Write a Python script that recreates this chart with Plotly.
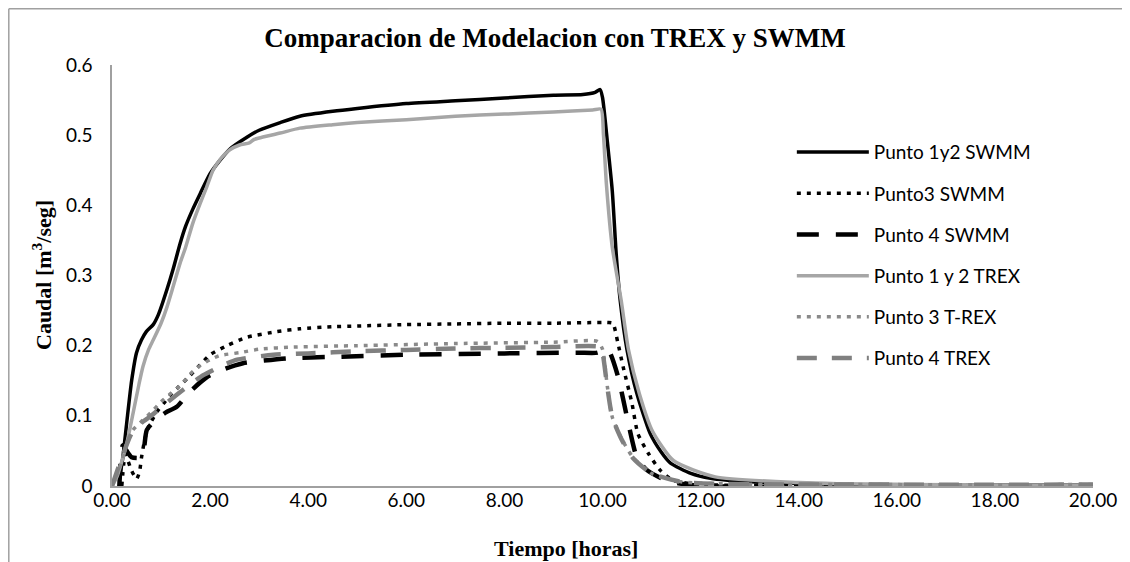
import plotly.graph_objects as go

# ---------------- data (hours, m3/s) ----------------
t_p12_swmm = [0.15, 0.22, 0.30, 0.40, 0.50, 0.60, 0.70, 0.84, 0.95, 1.12, 1.25, 1.39, 1.50, 1.65, 1.80, 2.00,
              2.20, 2.40, 2.75, 3.00, 3.43, 3.83, 4.50, 5.00, 6.00, 7.00, 8.00, 9.00, 9.60, 9.85, 9.95,
              10.00, 10.10, 10.20, 10.28, 10.36, 10.50, 10.70, 10.97, 11.20, 11.38, 11.80, 12.20, 13.00,
              13.90, 15.00, 20.00]
q_p12_swmm = [0.010, 0.040, 0.090, 0.150, 0.190, 0.208, 0.220, 0.230, 0.245, 0.280, 0.310, 0.346, 0.370,
              0.395, 0.417, 0.445, 0.464, 0.480, 0.497, 0.507, 0.518, 0.527, 0.534, 0.538, 0.545, 0.549,
              0.553, 0.557, 0.558, 0.561, 0.565, 0.554, 0.490, 0.420, 0.330, 0.265, 0.194, 0.132, 0.075,
              0.048, 0.033, 0.018, 0.011, 0.006, 0.004, 0.002, 0.001]

t_p3_swmm = [0.20, 0.27, 0.33, 0.40, 0.50, 0.56, 0.60, 0.65, 0.71, 0.80, 0.94, 1.08, 1.22, 1.37, 1.53, 1.76,
             2.00, 2.34, 2.75, 3.36, 3.83, 4.50, 5.00, 6.00, 7.00, 8.00, 9.00, 10.10, 10.21, 10.31, 10.42,
             10.60, 10.72, 10.93, 11.17, 11.44, 12.00, 13.00, 20.00]
q_p3_swmm = [0.000, 0.045, 0.035, 0.022, 0.010, 0.020, 0.040, 0.060, 0.078, 0.092, 0.108, 0.120, 0.132,
             0.142, 0.153, 0.170, 0.187, 0.200, 0.212, 0.220, 0.224, 0.227, 0.228, 0.230, 0.231, 0.232,
             0.232, 0.233, 0.232, 0.205, 0.170, 0.118, 0.075, 0.047, 0.023, 0.008, 0.002, 0.001, 0.000]

t_p4_swmm = [0.15, 0.22, 0.30, 0.40, 0.55, 0.63, 0.71, 0.90, 1.10, 1.32, 1.60, 1.93, 2.30, 2.67, 3.00, 3.57,
             4.50, 6.00, 8.00, 9.50, 9.90, 10.05, 10.15, 10.32, 10.50, 10.70, 10.90, 11.30, 11.85, 20.00]
q_p4_swmm = [0.000, 0.058, 0.050, 0.041, 0.040, 0.045, 0.080, 0.095, 0.105, 0.113, 0.135, 0.155, 0.167,
             0.175, 0.178, 0.182, 0.184, 0.187, 0.189, 0.190, 0.190, 0.196, 0.190, 0.155, 0.098, 0.041,
             0.023, 0.008, 0.001, 0.000]

t_p12_trex = [0.00, 0.10, 0.20, 0.30, 0.43, 0.55, 0.63, 0.75, 0.84, 1.00, 1.12, 1.25, 1.39, 1.50, 1.65,
              1.80, 1.93, 2.06, 2.20, 2.40, 2.60, 2.80, 2.90, 3.00, 3.43, 3.83, 4.50, 5.00, 6.00, 7.00,
              8.00, 9.00, 9.80, 9.97, 10.02, 10.08, 10.20, 10.38, 10.53, 10.75, 11.02, 11.45, 12.30,
              14.00, 16.00, 20.00]
q_p12_trex = [0.000, 0.013, 0.035, 0.060, 0.104, 0.145, 0.170, 0.195, 0.208, 0.232, 0.255, 0.285, 0.318,
              0.340, 0.375, 0.403, 0.426, 0.450, 0.465, 0.479, 0.486, 0.489, 0.494, 0.496, 0.503, 0.510,
              0.515, 0.518, 0.522, 0.527, 0.530, 0.533, 0.536, 0.537, 0.500, 0.430, 0.340, 0.265, 0.194,
              0.132, 0.078, 0.036, 0.013, 0.005, 0.002, 0.001]

t_p3_trex = [0.00, 0.15, 0.30, 0.43, 0.60, 0.80, 1.00, 1.20, 1.42, 1.60, 1.80, 2.00, 2.20, 2.60, 3.00,
             3.70, 5.00, 7.00, 9.00, 9.90, 10.00, 10.10, 10.20, 10.40, 10.62, 11.00, 11.60, 12.50, 20.00]
q_p3_trex = [0.000, 0.025, 0.060, 0.080, 0.092, 0.105, 0.120, 0.132, 0.145, 0.160, 0.172, 0.180, 0.186,
             0.190, 0.195, 0.198, 0.200, 0.203, 0.205, 0.206, 0.195, 0.141, 0.098, 0.066, 0.041, 0.018,
             0.006, 0.003, 0.002]

t_p4_trex = [0.00, 0.20, 0.40, 0.60, 0.80, 1.00, 1.32, 1.60, 1.86, 2.20, 2.55, 3.29, 4.00, 5.00, 6.00,
             7.00, 8.00, 9.00, 9.95, 10.00, 10.10, 10.20, 10.40, 10.62, 11.00, 11.60, 12.50, 20.00]
q_p4_trex = [0.000, 0.040, 0.075, 0.090, 0.100, 0.112, 0.130, 0.145, 0.158, 0.170, 0.180, 0.187, 0.189,
             0.192, 0.194, 0.196, 0.197, 0.198, 0.198, 0.190, 0.140, 0.098, 0.065, 0.040, 0.018, 0.006,
             0.003, 0.002]

series_names = ["Punto 1y2 SWMM", "Punto3 SWMM", "Punto 4 SWMM",
                "Punto 1 y 2 TREX", "Punto 3 T-REX", "Punto 4 TREX"]

x_ticks = [0, 2, 4, 6, 8, 10, 12, 14, 16, 18, 20]
y_ticks = [0, 0.1, 0.2, 0.3, 0.4, 0.5, 0.6]

# ---------------- figure ----------------
series = [
    (t_p12_swmm, q_p12_swmm, "#000000", 3.5, "solid"),
    (t_p3_swmm, q_p3_swmm, "#000000", 3.5, "4px,6px"),
    (t_p4_swmm, q_p4_swmm, "#000000", 4.5, "22px,17px"),
    (t_p12_trex, q_p12_trex, "#A6A6A6", 3.5, "solid"),
    (t_p3_trex, q_p3_trex, "#8A8A8A", 3.5, "4px,6px"),
    (t_p4_trex, q_p4_trex, "#808080", 4.5, "20px,15px"),
]

fig = go.Figure()
for i, (tx, qy, col, w, dash) in enumerate(series):
    fig.add_trace(go.Scatter(
        x=tx, y=qy, mode="lines", name=series_names[i],
        line=dict(color=col, width=w, dash=dash, shape="spline", smoothing=0.6),
        legendgroup=f"g{i}",
    ))

axis_col = "#A0A0A0"
PL, PR, PT, PB = 104, 1085, 57, 478          # plot area in figure pixels
PW, PH = PR - PL, PB - PT

fig.update_layout(
    width=1130, height=562,
    margin=dict(l=PL, r=1130 - PR, t=PT, b=562 - PB),
    paper_bgcolor="white", plot_bgcolor="white",
    font=dict(family="Lato, Open Sans, sans-serif", size=19, color="#000000"),
    showlegend=True,
    legend=dict(x=0.693, y=0.838, xanchor="left", yanchor="top",
                traceorder="grouped", tracegroupgap=13.5, itemwidth=72,
                font=dict(family="Lato, sans-serif", size=19, color="#000000"),
                bgcolor="rgba(0,0,0,0)"),
    xaxis=dict(range=[0, 20], tickvals=x_ticks, tickformat=".2f",
               showgrid=False, zeroline=False, showline=True,
               linecolor=axis_col, linewidth=1.5, ticks="",
               ticklabelstandoff=-4),
    yaxis=dict(range=[0, 0.6], tickvals=y_ticks,
               showgrid=False, zeroline=False, showline=True,
               linecolor=axis_col, linewidth=1.5, ticks="",
               ticklabelstandoff=14),
    title=dict(text="<b>Comparacion de Modelacion con TREX y SWMM</b>",
               x=547 / 1130, xref="container", xanchor="center",
               y=1 - 30 / 562, yref="container", yanchor="middle",
               font=dict(family="Liberation Serif, Times New Roman, serif", size=27, color="#000000")),
)

fig.add_annotation(text="<b>Tiempo [horas]</b>", xref="paper", yref="paper",
                   x=(558 - PL) / PW, y=(PB - 540) / PH, showarrow=False,
                   xanchor="center", yanchor="middle",
                   font=dict(family="Liberation Serif, Times New Roman, serif", size=22, color="#000000"))
fig.add_annotation(text="<b>Caudal [m<sup>3</sup>/seg]</b>", xref="paper", yref="paper",
                   x=(34 - PL) / PW, y=(PB - 267) / PH, showarrow=False, textangle=-90,
                   xanchor="center", yanchor="middle",
                   font=dict(family="Liberation Serif, Times New Roman, serif", size=22, color="#000000"))

# chart-area border (outer frame at the figure's top/left edges)
fig.add_shape(type="line", xref="paper", yref="paper",
              x0=(0.8 - PL) / PW, x1=(0.8 - PL) / PW, y0=(PB - 0.8) / PH, y1=(PB - 600) / PH,
              line=dict(color="#A0A0A0", width=1.5))
fig.add_shape(type="line", xref="paper", yref="paper",
              x0=(0.8 - PL) / PW, x1=(1200 - PL) / PW, y0=(PB - 0.8) / PH, y1=(PB - 0.8) / PH,
              line=dict(color="#A0A0A0", width=1.5))

fig.write_html("out.html")
